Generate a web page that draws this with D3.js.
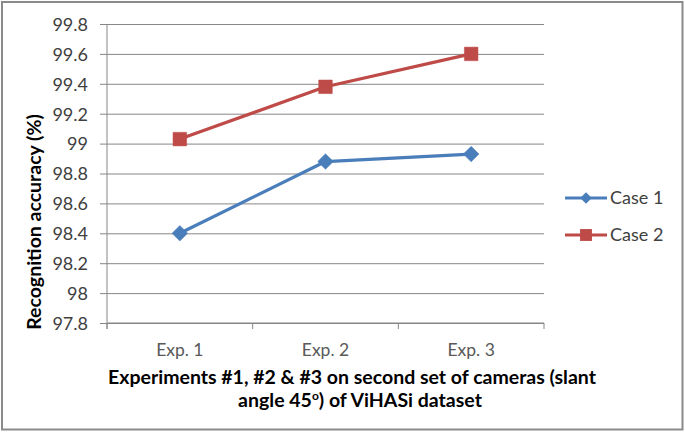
<!DOCTYPE html>
<html><head><meta charset="utf-8">
<script src="https://cdn.jsdelivr.net/npm/d3@7"></script>
<style>body{margin:0;background:#fff}svg{display:block}</style>
</head><body>
<svg id="c" width="685" height="432"></svg>
<script>
const categories = ["Exp. 1", "Exp. 2", "Exp. 3"];
const case1 = [98.40, 98.88, 98.93];
const case2 = [99.03, 99.38, 99.60];
const seriesNames = ["Case 1", "Case 2"];
const yTicks = [97.8, 98, 98.2, 98.4, 98.6, 98.8, 99, 99.2, 99.4, 99.6, 99.8];
const colors = ["#4a7ebb", "#be4b48"];
const font = "Lato, 'Open Sans', sans-serif";

const svg = d3.select("#c");
svg.append("rect").attr("x",2).attr("y",2).attr("width",680.5).attr("height",427.5)
  .attr("fill","#fff").attr("stroke","#8a8a8a").attr("stroke-width",2);

const L=107, R=544, T=24, B=323;
const x = d3.scaleBand().domain(categories).range([L,R]);
const y = d3.scaleLinear().domain([97.8,99.8]).range([B,T]);

// gridlines + y ticks
const yAxis = d3.axisLeft(y).tickValues(yTicks).tickSize(-(R-L)).tickPadding(19)
  .tickFormat(d => d3.format("")(+d.toFixed(1)));
const gy = svg.append("g").attr("transform",`translate(${L},0)`).call(yAxis);
gy.select(".domain").remove();
gy.selectAll(".tick line").attr("stroke","#878787").attr("x1",-7);
gy.selectAll(".tick text").attr("font-family",font).attr("font-size",18).attr("fill","#404040").attr("dy","0.35em");

// x axis
const gx = svg.append("g").attr("transform",`translate(0,${B})`);
gx.append("line").attr("x1",L).attr("x2",R).attr("stroke","#878787");
const bounds = [L, ...categories.map(c => x(c)+x.bandwidth())];
gx.selectAll("line.tk").data(bounds).enter().append("line").attr("class","tk")
  .attr("x1",d=>d).attr("x2",d=>d).attr("y1",0).attr("y2",6).attr("stroke","#878787");
gx.selectAll("text").data(categories).enter().append("text")
  .attr("x",d=>x(d)+x.bandwidth()/2).attr("y",33).attr("text-anchor","middle")
  .attr("font-family",font).attr("font-size",17.5).attr("fill","#595959").text(d=>d);
// y axis line
svg.append("line").attr("x1",L).attr("x2",L).attr("y1",T).attr("y2",B+6).attr("stroke","#878787");

// titles
svg.append("text").attr("transform",`translate(41,222) rotate(-90)`)
  .attr("text-anchor","middle").attr("font-family",font).attr("font-weight","bold")
  .attr("font-size",19.5).attr("fill","#000").text("Recognition accuracy (%)");
const xt = svg.append("text").attr("text-anchor","middle").attr("font-family",font)
  .attr("font-weight","bold").attr("font-size",19.5).attr("fill","#000");
xt.append("tspan").attr("x",352).attr("y",384).text("Experiments #1, #2 & #3 on second set of cameras (slant");
const l2 = xt.append("tspan").attr("x",360).attr("y",407);
l2.append("tspan").text("angle 45");
l2.append("tspan").attr("font-size",12).attr("dy",-7).text("o");
l2.append("tspan").attr("dy",7).text(") of ViHASi dataset");

// series
const data = [case1, case2];
const line = d3.line().x((d,i)=>x(categories[i])+x.bandwidth()/2).y(d=>y(d));
data.forEach((s,k)=>{
  svg.append("path").datum(s).attr("d",line).attr("fill","none")
    .attr("stroke",colors[k]).attr("stroke-width",3.2).attr("stroke-linejoin","round");
  const sym = k===0 ? d3.symbolDiamond2 : d3.symbolSquare2;
  const sz = k===0 ? 155 : 235;
  svg.selectAll(null).data(s).enter().append("path")
    .attr("d",d3.symbol(sym, sz))
    .attr("transform",(d,i)=>`translate(${x(categories[i])+x.bandwidth()/2},${y(d)})`)
    .attr("fill",colors[k]).attr("stroke",colors[k]).attr("stroke-width",0.5);
});

// legend
const legY = [198, 235];
seriesNames.forEach((n,k)=>{
  const g = svg.append("g");
  g.append("line").attr("x1",565).attr("x2",607).attr("y1",legY[k]).attr("y2",legY[k])
    .attr("stroke",colors[k]).attr("stroke-width",3.2);
  g.append("path").attr("d",d3.symbol(k===0?d3.symbolDiamond2:d3.symbolSquare2, k===0?85:180))
    .attr("transform",`translate(586,${legY[k]})`).attr("fill",colors[k]);
  g.append("text").attr("x",610).attr("y",legY[k]).attr("dy","0.35em")
    .attr("font-family",font).attr("font-size",18).attr("fill","#404040").text(n);
});
</script>
</body></html>
